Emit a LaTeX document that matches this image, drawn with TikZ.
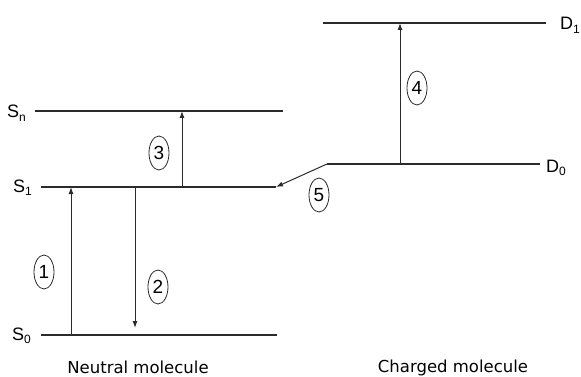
\documentclass[tikz,border=0pt]{standalone}
\usepackage{fontspec}
\setmainfont{Liberation Sans}
\newfontfamily\captionfont{DejaVu Sans}
\usetikzlibrary{arrows.meta,shapes.geometric}
\definecolor{ink}{HTML}{2B2B2B}
% level name with a lowered subscript
\newcommand{\lvlname}[2]{#1\raisebox{-0.35ex}{\fontsize{12}{12}\selectfont #2}}
\begin{document}
\begin{tikzpicture}[x=1pt,y=-1pt,
  level/.style={draw=ink,line width=1.1pt},
  trans/.style={draw=ink,line width=1pt,-{Latex[length=7pt,width=5pt]}},
  tag/.style={draw=ink,line width=0.8pt,ellipse,inner sep=0pt,minimum width=20pt,minimum height=34pt,font=\fontsize{19}{19}\selectfont},
  lvl/.style={font=\fontsize{18}{18}\selectfont,inner sep=0pt,anchor=base west},
  captext/.style={font=\captionfont\fontsize{16.5}{16.5}\selectfont,inner sep=0pt,anchor=base}]
\useasboundingbox (0,0) rectangle (581,377);
% neutral molecule levels
\coordinate (snL) at (35,111);  \coordinate (snR) at (283,111);
\coordinate (s1L) at (41,187);  \coordinate (s1R) at (276,187);
\coordinate (s0L) at (41,335);  \coordinate (s0R) at (277,335);
\draw[level] (snL) -- (snR);
\draw[level] (s1L) -- (s1R);
\draw[level] (s0L) -- (s0R);
\node[lvl] (sn) at (7,118) {\lvlname{S}{n}};
\node[lvl] (s1) at (13,192) {\lvlname{S}{1}};
\node[lvl] (s0) at (12,340) {\lvlname{S}{0}};
% charged molecule levels
\coordinate (d1L) at (323,23);  \coordinate (d1R) at (546,23);
\coordinate (d0L) at (327,164); \coordinate (d0R) at (540,164);
\draw[level] (d1L) -- (d1R);
\draw[level] (d0L) -- (d0R);
\node[lvl] (d1) at (560,30) {\lvlname{D}{1}};
\node[lvl] (d0) at (546,172) {\lvlname{D}{0}};
% transitions
\coordinate (a1b) at (71,335); \coordinate (a1t) at (71,187);
\coordinate (a2t) at (135,187); \coordinate (a2b) at (135,328);
\coordinate (a3b) at (182,187); \coordinate (a3t) at (182,111);
\coordinate (a4b) at (400,164); \coordinate (a4t) at (400,23);
\draw[trans] (a1b) -- (a1t);
\draw[trans] (a2t) -- (a2b);
\draw[trans] (a3b) -- (a3t);
\draw[trans] (a4b) -- (a4t);
\draw[trans] (d0L) -- (s1R);
% step numbers
\node[tag] (n1) at (44,272) {1};
\node[tag] (n2) at (158,287) {2};
\node[tag] (n3) at (159,153) {3};
\node[tag] (n4) at (417,88) {4};
\node[tag] (n5) at (319,195) {5};
% captions
\node[captext] (neutral) at (138,373) {Neutral molecule};
\node[captext] (charged) at (453,372) {Charged molecule};
\end{tikzpicture}
\end{document}
